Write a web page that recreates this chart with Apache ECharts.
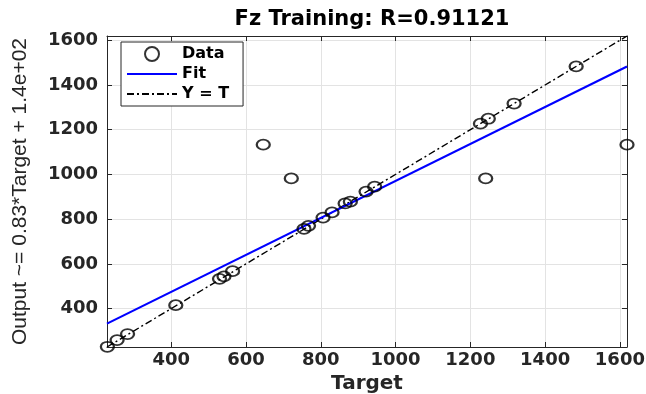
<!DOCTYPE html>
<html>
<head>
<meta charset="utf-8">
<script src="https://cdn.jsdelivr.net/npm/echarts@6/dist/echarts.min.js"></script>
<style>html,body{margin:0;padding:0;background:#fff}#chart{width:646px;height:394px}</style>
</head>
<body>
<div id="chart"></div>
<script>
// Data
const targets = [229, 255, 283, 412, 529, 541, 564, 646, 721, 755, 767, 806, 830, 865, 879, 921, 944, 1227, 1248, 1241, 1317, 1483, 1619];
const outputs = [229, 259, 286, 415, 533, 544, 567, 1133, 982, 756, 770, 807, 830, 870, 878, 923, 945, 1227, 1249, 982, 1317, 1483, 1133];
const fitSlope = 0.827;
const fitIntercept = 144;
const axisMin = 228;
const axisMax = 1619;
const tickLabels = [400, 600, 800, 1000, 1200, 1400, 1600];
const titleText = 'Fz Training: R=0.91121';
const xName = 'Target';
const yName = 'Output ~= 0.83*Target + 1.4e+02';

const boldFont = "'DejaVu Sans', sans-serif";
const dataPts = targets.map((t, i) => [t, outputs[i]]);
const fitPts = [[axisMin, fitSlope * axisMin + fitIntercept], [axisMax, fitSlope * axisMax + fitIntercept]];
const idPts = [[axisMin, axisMin], [axisMax, axisMax]];

function labelFmt(v) { return tickLabels.indexOf(Math.round(v)) >= 0 ? String(Math.round(v)) : ''; }

const mainAxis = (pos) => ({
  type: 'value', min: axisMin, max: axisMax, splitNumber: 7, position: pos,
  axisLine: { show: true, onZero: false, lineStyle: { color: '#262626', width: 1 } },
  axisTick: { show: true, inside: true, length: 5, lineStyle: { color: '#262626' } },
  axisLabel: { show: true, formatter: labelFmt, showMinLabel: false, showMaxLabel: false,
    color: '#262626', fontFamily: boldFont, fontWeight: 'bold', fontSize: 18 },
  splitLine: { show: true, lineStyle: { color: '#e3e3e3', width: 1 } }
});
const sideAxis = (pos) => ({
  type: 'value', min: axisMin, max: axisMax, splitNumber: 7, position: pos,
  axisLine: { show: true, onZero: false, lineStyle: { color: '#262626', width: 1 } },
  axisTick: { show: true, inside: true, length: 5, lineStyle: { color: '#262626' } },
  axisLabel: { show: false }, splitLine: { show: false }
});

const xMain = mainAxis('bottom');
xMain.axisLabel.margin = 4;
xMain.name = xName; xMain.nameLocation = 'middle'; xMain.nameGap = 27;
xMain.nameTextStyle = { color: '#262626', fontFamily: boldFont, fontWeight: 'bold', fontSize: 20 };
const yMain = mainAxis('left');
yMain.axisLabel.margin = 9;
yMain.name = yName; yMain.nameLocation = 'middle'; yMain.nameGap = 76;
yMain.nameTextStyle = { color: '#262626', fontFamily: "'Liberation Sans', Arial, sans-serif", fontSize: 21 };

const lineLegendStyle = { color: 'rgba(0,0,0,0)', borderColor: 'rgba(0,0,0,0)', borderWidth: 0 };

const chart = echarts.init(document.getElementById('chart'), null, { renderer: 'canvas' });
chart.setOption({
  animation: false,
  backgroundColor: '#fff',
  title: { text: titleText, left: 367, textAlign: 'center', top: 4,
    textStyle: { fontFamily: boldFont, fontWeight: 'bold', fontSize: 21, color: '#000' } },
  grid: { left: 107, right: 19, top: 36, bottom: 47, containLabel: false, outerBoundsMode: 'none' },
  legend: {
    orient: 'vertical', left: 121, top: 42, padding: [4, 14, 4, 5], itemGap: 4,
    itemWidth: 50, itemHeight: 14, backgroundColor: '#fff', borderColor: '#262626', borderWidth: 1,
    textStyle: { fontFamily: boldFont, fontWeight: 'bold', fontSize: 16, color: '#000' },
    data: [
      { name: 'Data' },
      { name: 'Fit', itemStyle: lineLegendStyle },
      { name: 'Y = T', itemStyle: lineLegendStyle }
    ]
  },
  xAxis: [xMain, sideAxis('top')],
  yAxis: [yMain, sideAxis('right')],
  series: [
    { name: 'Y = T', type: 'line', data: idPts, symbol: 'none', z: 2,
      lineStyle: { color: '#000', width: 1.4, type: [7, 3, 2, 3] }, itemStyle: { color: '#000' } },
    { name: 'Fit', type: 'line', data: fitPts, symbol: 'none', z: 3,
      lineStyle: { color: '#0000ff', width: 2.2 }, itemStyle: { color: '#0000ff' } },
    { name: 'Data', type: 'scatter', data: dataPts, symbol: 'circle', symbolSize: [13, 10], z: 4,
      itemStyle: { color: 'rgba(0,0,0,0)', borderColor: '#000', borderWidth: 2 } }
  ]
});
</script>
</body>
</html>
